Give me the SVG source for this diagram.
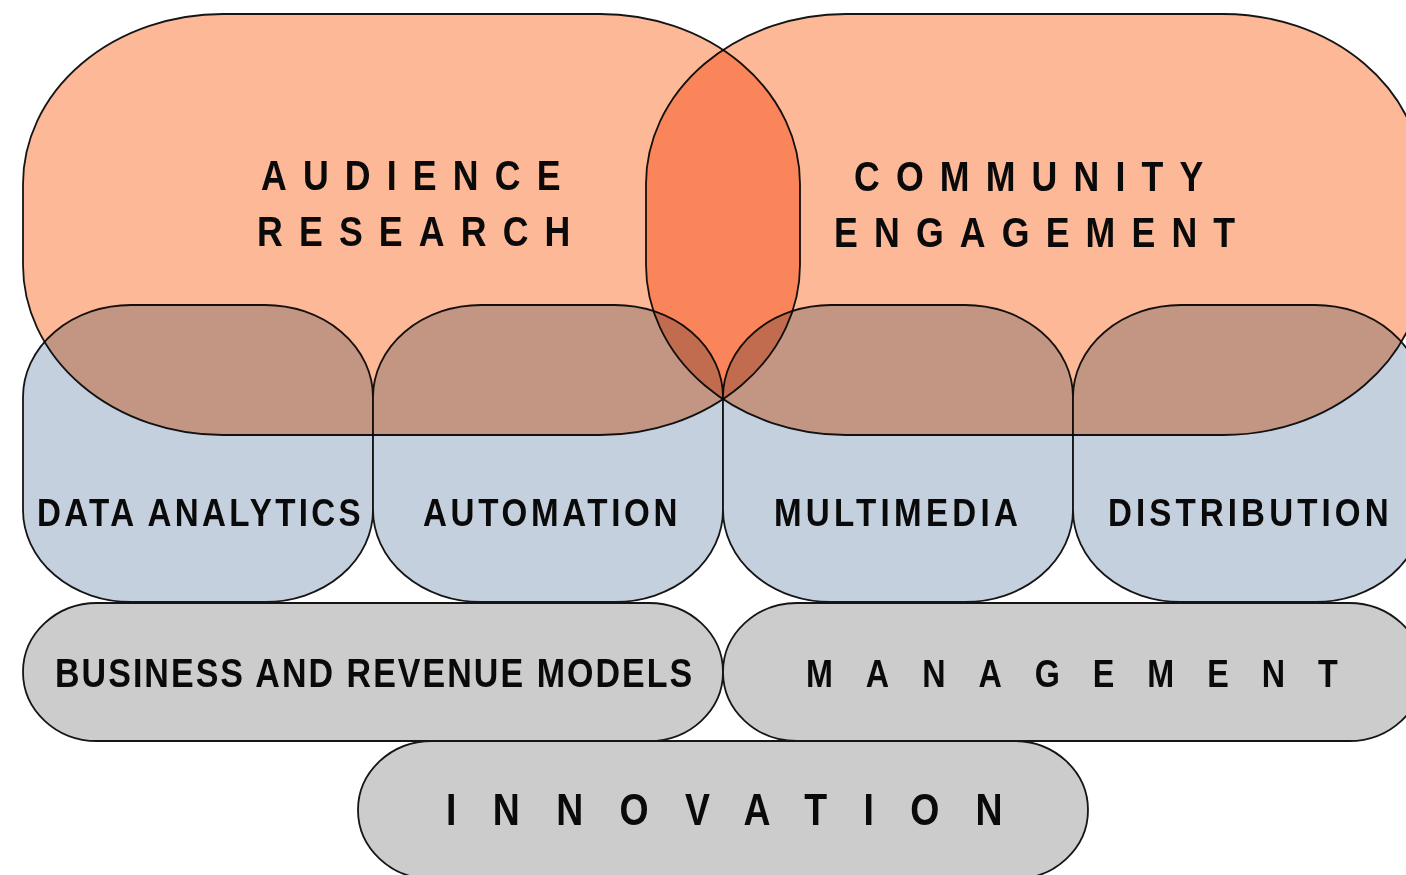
<svg xmlns="http://www.w3.org/2000/svg" width="1406" height="875" viewBox="0 0 1406 875">
  <style>
    .shape { stroke: #151515; stroke-width: 1.8; }
    .blue { fill: #c5d0de; }
    .gray { fill: #cccccc; }
    .orange { fill: #fdb897; mix-blend-mode: multiply; }
    .lbl { font-family: "Liberation Sans", Arial, sans-serif; font-weight: 700; fill: #0a0a0a; }
    .big { font-size: 42px; letter-spacing: 19px; }
    .mid { font-size: 39px; }
  </style>

  <rect x="0" y="0" width="1406" height="875" fill="#ffffff"/>

  <!-- bottom row -->
  <g id="innovation">
    <rect class="shape gray" x="358" y="741" width="730" height="138" rx="74" ry="69"/>
    <text class="lbl" font-size="44" letter-spacing="42.8" transform="translate(446 825) scale(0.85 1)">INNOVATION</text>
  </g>

  <!-- second row -->
  <g id="business-models">
    <rect class="shape gray" x="23" y="603" width="700" height="138" rx="74" ry="69"/>
    <text class="lbl" font-size="40" letter-spacing="2.4" transform="translate(55 687) scale(0.85 1)">BUSINESS AND REVENUE MODELS</text>
  </g>
  <g id="management">
    <rect class="shape gray" x="723" y="603" width="700" height="138" rx="74" ry="69"/>
    <text class="lbl" font-size="38" letter-spacing="38.8" transform="translate(806 687) scale(0.85 1)">MANAGEMENT</text>
  </g>

  <!-- skills row -->
  <g id="data-analytics">
    <rect class="shape blue" x="23" y="305" width="350" height="297" rx="108" ry="92"/>
    <text class="lbl mid" letter-spacing="3.9" transform="translate(37 526) scale(0.85 1)">DATA ANALYTICS</text>
  </g>
  <g id="automation">
    <rect class="shape blue" x="373" y="305" width="350" height="297" rx="108" ry="92"/>
    <text class="lbl mid" letter-spacing="4.3" transform="translate(423 526) scale(0.85 1)">AUTOMATION</text>
  </g>
  <g id="multimedia">
    <rect class="shape blue" x="723" y="305" width="350" height="297" rx="108" ry="92"/>
    <text class="lbl mid" letter-spacing="5" transform="translate(774 526) scale(0.85 1)">MULTIMEDIA</text>
  </g>
  <g id="distribution">
    <rect class="shape blue" x="1073" y="305" width="350" height="297" rx="108" ry="92"/>
    <text class="lbl mid" letter-spacing="4.8" transform="translate(1108 526) scale(0.85 1)">DISTRIBUTION</text>
  </g>

  <!-- overlapping top areas, multiplied over the row below -->
  <g id="audience-research">
    <rect class="shape orange" x="23" y="14" width="777" height="421" rx="200" ry="170"/>
  </g>
  <g id="community-engagement">
    <rect class="shape orange" x="646" y="14" width="777" height="421" rx="200" ry="170"/>
  </g>

  <g id="top-labels">
    <text class="lbl big" transform="translate(261 190) scale(0.85 1)">AUDIENCE</text>
    <text class="lbl big" transform="translate(257 246) scale(0.85 1)">RESEARCH</text>
    <text class="lbl big" letter-spacing="20.6" transform="translate(854 191) scale(0.85 1)">COMMUNITY</text>
    <text class="lbl big" transform="translate(834 247) scale(0.85 1)">ENGAGEMENT</text>
  </g>
</svg>
